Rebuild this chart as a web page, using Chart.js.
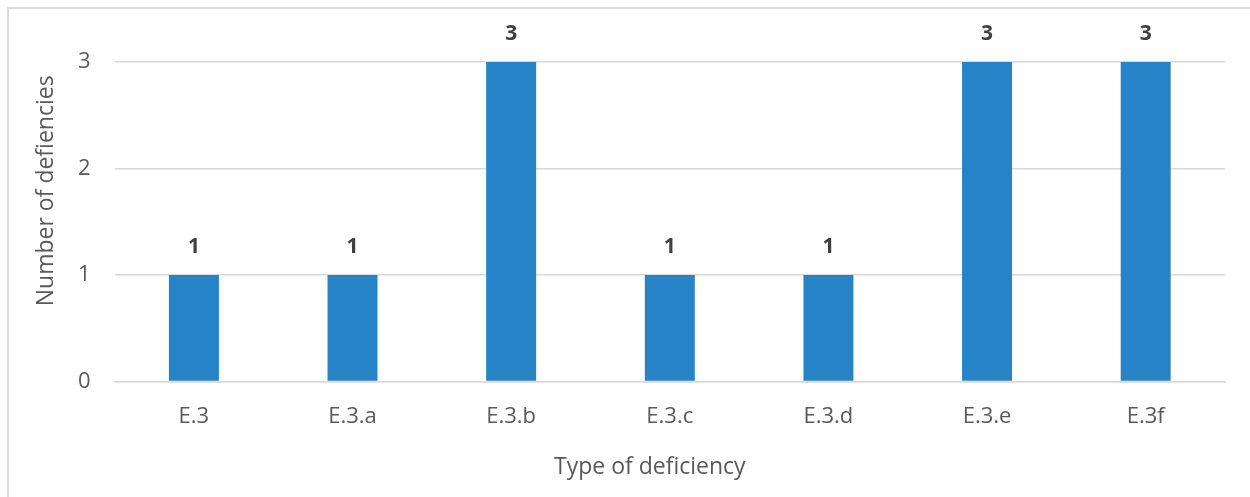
<!DOCTYPE html>
<html>
<head>
<meta charset="utf-8">
<script src="https://cdn.jsdelivr.net/npm/chart.js@4/dist/chart.umd.min.js"></script>
<style>
  html, body { margin: 0; padding: 0; background: #fff; }
  #frame {
    position: absolute; left: 7px; top: 7px; width: 1260px; height: 510px;
    border: 2px solid #d9d9d9; box-sizing: border-box;
  }
  #wrap { position: absolute; left: 0; top: 0; width: 1250px; height: 497px; }
</style>
</head>
<body>
<div id="frame"></div>
<div id="wrap"><canvas id="chart"></canvas></div>
<script>
// Deficiency counts by type

const categories = ["E.3", "E.3.a", "E.3.b", "E.3.c", "E.3.d", "E.3.e", "E.3f"];
const counts = [1, 1, 3, 1, 1, 3, 3];
const yTicks = [0, 1, 2, 3];
const xTitle = "Type of deficiency";
const yTitle = "Number of defiencies";

const FONT = "'Open Sans', 'Noto Sans', sans-serif";
const TEXT = "#595959";

// bold value above each bar, plus the two axis titles
// (drawn by hand: in the original they sit off-centre from the plot)
const annotations = {
  id: "annotations",
  afterDatasetsDraw(chart) {
    const ctx = chart.ctx;
    const meta = chart.getDatasetMeta(0);
    const area = chart.chartArea;
    ctx.save();
    ctx.font = "bold 21px " + FONT;
    ctx.fillStyle = "#404040";
    ctx.textAlign = "center";
    ctx.textBaseline = "middle";
    meta.data.forEach((bar, i) => {
      ctx.fillText(String(counts[i]), bar.x, bar.y - 28);
    });

    ctx.font = "23px " + FONT;
    ctx.fillStyle = TEXT;
    ctx.fillText(xTitle, (area.left + area.right) / 2 - 20, 467);

    ctx.translate(46, (area.top + area.bottom) / 2 - 31);
    ctx.rotate(-Math.PI / 2);
    ctx.fillText(yTitle, 0, 0);
    ctx.restore();
  },
};

new Chart(document.getElementById("chart").getContext("2d"), {
  type: "bar",
  data: {
    labels: categories,
    datasets: [{
      data: counts,
      backgroundColor: "#2683c6",
      borderWidth: 0,
      categoryPercentage: 1,
      barPercentage: 0.315,
    }],
  },
  options: {
    responsive: true,
    maintainAspectRatio: false,
    animation: false,
    layout: { padding: { top: 62, right: 25, left: 54, bottom: 45 } },
    plugins: { legend: { display: false }, tooltip: { enabled: false } },
    scales: {
      x: {
        grid: { display: false, drawTicks: false },
        border: { color: "#d9d9d9", width: 1.5 },
        ticks: { color: TEXT, font: { family: FONT, size: 22 }, padding: 22 },
      },
      y: {
        min: 0, max: 3,
        afterBuildTicks: axis => { axis.ticks = yTicks.map(v => ({ value: v })); },
        grid: { color: "#d9d9d9", lineWidth: 1.5, drawTicks: false },
        border: { display: false },
        ticks: { color: TEXT, font: { family: FONT, size: 22 }, padding: 24 },
      },
    },
  },
  plugins: [annotations],
});
</script>
</body>
</html>
